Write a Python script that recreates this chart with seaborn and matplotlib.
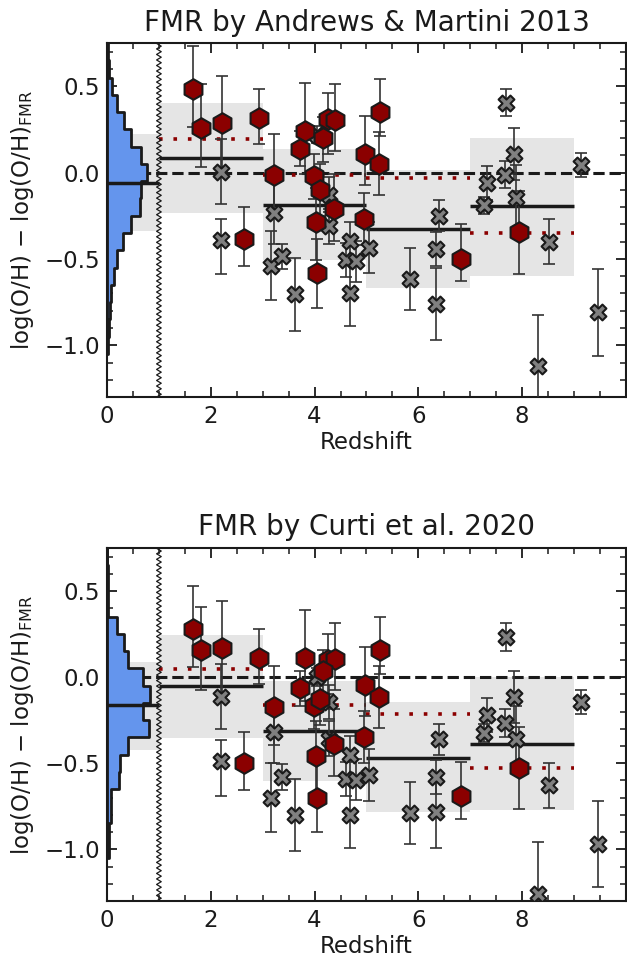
import numpy as np
import pandas as pd
import matplotlib
matplotlib.use('Agg')
import matplotlib.pyplot as plt
import seaborn as sns
from matplotlib.ticker import MultipleLocator, FixedLocator

sns.set_theme(style='ticks')
plt.rcParams['font.family'] = ['DejaVu Sans']
plt.rcParams.update({'text.color': 'k', 'axes.labelcolor': 'k',
                     'xtick.color': 'k', 'ytick.color': 'k', 'axes.edgecolor': 'k'})

titles = ["FMR by Andrews & Martini 2013", "FMR by Curti et al. 2020"]

# red hexagons (x = redshift)
hex_z   = [1.66, 1.82, 2.22, 2.92, 2.64, 3.22, 3.81, 3.72, 4.26, 4.39, 4.16, 3.98, 4.10, 4.38, 4.03, 4.04, 4.98, 4.96, 5.26, 5.24, 6.82, 7.94]
hex_top = [0.485, 0.26, 0.287, 0.314, -0.382, -0.015, 0.24, 0.138, 0.308, 0.302, 0.20, -0.021, -0.099, -0.209, -0.289, -0.583, 0.11, -0.269, 0.353, 0.052, -0.50, -0.347]
hex_bot = [0.277, 0.157, 0.17, 0.112, -0.498, -0.176, 0.112, -0.066, 0.099, 0.103, 0.037, -0.169, -0.128, -0.386, -0.457, -0.70, -0.043, -0.347, 0.157, -0.114, -0.692, -0.527]
hex_elo = [0.22, 0.23, 0.28, 0.15, 0.16, 0.22, 0.25, 0.10, 0.20, 0.18, 0.14, 0.13, 0.15, 0.19, 0.22, 0.20, 0.18, 0.15, 0.14, 0.18, 0.13, 0.24]
hex_ehi = [0.25, 0.25, 0.27, 0.17, 0.18, 0.24, 0.28, 0.10, 0.15, 0.21, 0.12, 0.13, 0.15, 0.20, 0.20, 0.20, 0.22, 0.15, 0.19, 0.18, 0.20, 0.24]

# grey crosses
crs_z   = [2.20, 2.20, 3.22, 3.16, 3.37, 3.62, 4.28, 4.27, 4.68, 4.60, 4.80, 4.68, 5.05, 4.05, 5.83, 6.40, 6.35, 6.34, 7.69, 7.32, 7.26, 7.68, 7.85, 7.89, 8.52, 8.30, 9.13, 9.47]
crs_top = [0.006, -0.388, -0.233, -0.539, -0.486, -0.705, -0.128, -0.312, -0.399, -0.506, -0.515, -0.70, -0.434, 0.22, -0.616, -0.25, -0.444, -0.762, 0.405, -0.06, -0.19, -0.012, 0.109, -0.147, -0.40, -1.122, 0.042, -0.81]
crs_bot = [-0.114, -0.488, -0.318, -0.70, -0.58, -0.802, -0.143, -0.357, -0.453, -0.593, -0.595, -0.802, -0.57, 0.0, -0.789, -0.362, -0.58, -0.783, 0.234, -0.221, -0.324, -0.266, -0.114, -0.357, -0.628, -1.258, -0.147, -0.971]
crs_elo = [0.19, 0.20, 0.18, 0.20, 0.075, 0.21, 0.10, 0.10, 0.12, 0.10, 0.12, 0.19, 0.15, 0.05, 0.18, 0.09, 0.10, 0.21, 0.08, 0.10, 0.05, 0.08, 0.15, 0.19, 0.13, 0.30, 0.07, 0.25]
crs_ehi = [0.19, 0.12, 0.18, 0.20, 0.075, 0.21, 0.10, 0.10, 0.11, 0.10, 0.12, 0.19, 0.15, 0.05, 0.18, 0.09, 0.10, 0.21, 0.08, 0.10, 0.05, 0.08, 0.15, 0.19, 0.13, 0.30, 0.07, 0.25]

# local-universe histogram (bin centres in dex, normalised heights)
hist_centers = [0.7, 0.6, 0.5, 0.4, 0.3, 0.2, 0.1, 0.0, -0.1, -0.2, -0.3, -0.4, -0.5, -0.6, -0.7, -0.8, -0.9, -1.0]
hist_top = [0.01, 0.03, 0.10, 0.19, 0.32, 0.47, 0.66, 0.78, 0.655, 0.635, 0.47, 0.31, 0.19, 0.13, 0.08, 0.05, 0.03, 0.01]
hist_bot = [0.0, 0.02, 0.02, 0.02, 0.20, 0.33, 0.41, 0.70, 0.83, 0.70, 0.80, 0.41, 0.25, 0.24, 0.077, 0.077, 0.04, 0.03]
local_med = [-0.06, -0.163]
local_lo = [-0.341, -0.424]
local_hi = [0.221, 0.089]

# redshift bins
zbin_edges = [1, 3, 5, 7, 9]
bin_med = [[0.085, -0.186, -0.326, -0.196], [-0.052, -0.312, -0.467, -0.386]]
bin_lo = [[-0.234, -0.506, -0.667, -0.597], [-0.353, -0.603, -0.783, -0.769]]
bin_hi = [[0.405, 0.134, 0.013, 0.201], [0.244, -0.021, -0.147, 0.0]]
bin_red = [[0.196, -0.013, -0.031, -0.351], [0.047, -0.163, -0.215, -0.527]]

xticks_major = [0, 2, 4, 6, 8]

hex_vals = [hex_top, hex_bot]
crs_vals = [crs_top, crs_bot]
hist_vals = [hist_top, hist_bot]

fig = plt.figure(figsize=(6.27, 9.63), dpi=100)
axes = [fig.add_axes([0.1707, 0.5877, 0.8275, 0.3676]),
        fig.add_axes([0.1707, 0.0644, 0.8275, 0.3666])]

edges = [round(c - 0.05, 3) for c in hist_centers[::-1]] + [round(hist_centers[0] + 0.05, 3)]

for p, ax in enumerate(axes):
    ax.set_xlim(0, 10)
    ax.set_ylim(-1.3, 0.75)
    # local band and histogram
    ax.fill_between([0, 1], local_lo[p], local_hi[p], color='#e5e5e5', lw=0, zorder=0)
    for i in range(len(zbin_edges) - 1):
        ax.fill_between([zbin_edges[i], zbin_edges[i + 1]], bin_lo[p][i], bin_hi[p][i],
                        color='#e5e5e5', lw=0, zorder=0)
    ax.axhline(0, color='k', ls='--', lw=2.2, zorder=1)
    dfh = pd.DataFrame({'y': hist_centers, 'w': hist_vals[p]})
    sns.histplot(data=dfh, y='y', weights='w', bins=edges, element='step', fill=True,
                 color='cornflowerblue', alpha=1, edgecolor='k', linewidth=2, ax=ax, zorder=2)
    ax.hlines(local_med[p], 0, 1, color='k', lw=2.5, zorder=3)
    for i in range(len(zbin_edges) - 1):
        ax.hlines(bin_med[p][i], zbin_edges[i], zbin_edges[i + 1], color='k', lw=2.5, zorder=3)
        ax.hlines(bin_red[p][i], zbin_edges[i], zbin_edges[i + 1], color='darkred', lw=2.6,
                  linestyles=(0, (1, 3)), zorder=3)
    # axis-break zigzag
    yz = np.arange(-1.3, 0.76, 0.016)
    xz = 1.0 + 0.045 * np.where(np.arange(len(yz)) % 2 == 0, -1, 1)
    ax.plot(xz, yz, color='k', lw=0.9, zorder=3)
    # error bars
    ax.errorbar(crs_z, crs_vals[p], yerr=[crs_elo, crs_ehi], fmt='none', ecolor='0.2',
                elinewidth=1.2, capsize=4, capthick=1.2, zorder=4)
    ax.errorbar(hex_z, hex_vals[p], yerr=[hex_elo, hex_ehi], fmt='none', ecolor='0.2',
                elinewidth=1.2, capsize=4, capthick=1.2, zorder=4)
    sns.scatterplot(x=crs_z, y=crs_vals[p], marker='X', s=130, color='grey', edgecolor='k',
                    linewidth=1.5, ax=ax, zorder=5)
    sns.scatterplot(x=hex_z, y=hex_vals[p], marker='h', s=220, color='darkred', edgecolor='k',
                    linewidth=1.5, ax=ax, zorder=6)
    ax.set_xlim(0, 10)
    ax.set_ylim(-1.3, 0.75)
    ax.xaxis.set_major_locator(FixedLocator(xticks_major))
    ax.xaxis.set_minor_locator(MultipleLocator(0.5))
    ax.yaxis.set_major_locator(MultipleLocator(0.5))
    ax.yaxis.set_minor_locator(MultipleLocator(0.1))
    ax.tick_params(which='both', direction='in', top=True, right=True, labelsize=16.5)
    ax.tick_params(which='major', length=7, width=1.3)
    ax.tick_params(which='minor', length=4, width=1.1)
    ax.tick_params(axis='x', which='major', pad=6)
    ax.tick_params(axis='y', which='major', pad=5)
    for s in ax.spines.values():
        s.set_linewidth(1.5)
        s.set_color('k')
    ax.set_xlabel('Redshift', fontsize=16.5, labelpad=2)
    ax.set_ylabel('log(O/H) $-$ log(O/H)$_{\\rm FMR}$', fontsize=16.5, labelpad=6)
    ax.set_title(titles[p], fontsize=20, pad=9)

fig.savefig('out.png', dpi=100)
